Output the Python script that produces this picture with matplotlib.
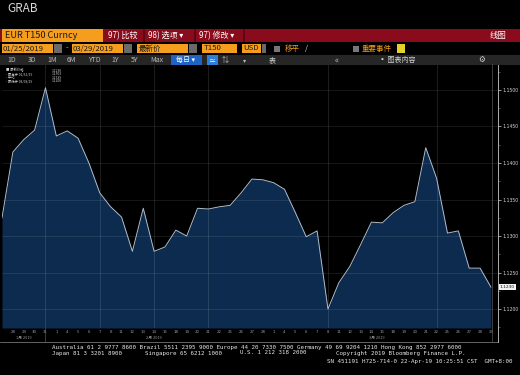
import matplotlib
matplotlib.use("Agg")
import matplotlib.pyplot as plt
from matplotlib.patches import Rectangle
from matplotlib.lines import Line2D
import numpy as np

# EUR T150 fixing, trading days 25 Jan - 29 Mar 2019
date_str = ["01/25/19"] + ["01/%02d/19" % d for d in [28, 29, 30, 31]] + \
           ["02/%02d/19" % d for d in [1, 4, 5, 6, 7, 8, 11, 12, 13, 14, 15, 18, 19, 20, 21, 22, 25, 26, 27, 28]] + \
           ["03/%02d/19" % d for d in [1, 4, 5, 6, 7, 8, 11, 12, 13, 14, 15, 18, 19, 20, 21, 22, 25, 26, 27, 28, 29]]
prices = [1.1325, 1.1415, 1.1432, 1.1445, 1.1503, 1.1437, 1.1444, 1.1434, 1.1400, 1.1359,
          1.1340, 1.1326, 1.1279, 1.1338, 1.1279, 1.1285, 1.1308, 1.1300, 1.1338, 1.1337,
          1.1340, 1.1342, 1.1359, 1.1378, 1.1377, 1.1373, 1.1364, 1.1332, 1.1299, 1.1307,
          1.1200, 1.1236, 1.1258, 1.1288, 1.1319, 1.1318, 1.1332, 1.1342, 1.1347, 1.1421,
          1.1379, 1.1304, 1.1307, 1.1256, 1.1256, 1.1230]
days = [int(s[3:5]) for s in date_str]
months = ["1月 2019", "2月 2019", "3月 2019"]
yticks = [1.1200, 1.1250, 1.1300, 1.1350, 1.1400, 1.1450, 1.1500]
vgrid = [4, 9, 14, 19, 30, 40]

W, H = 520, 375
CJK = ['Noto Sans CJK SC', 'DejaVu Sans']


def fx(x):
    return x / W


def fy(y):
    return 1 - y / H


def box(x0, y0, x1, y1, c):
    fig.patches.append(Rectangle((fx(x0), fy(y1)), (x1 - x0) / W, (y1 - y0) / H,
                                 transform=fig.transFigure, color=c, lw=0))


def txt(x, y, s, c="white", size=6, ha="left", **kw):
    fig.text(fx(x), fy(y), s, color=c, fontsize=size, ha=ha, va="center", family=CJK, **kw)


fig = plt.figure(figsize=(5.2, 3.75), dpi=100, facecolor="black")

# ---- header
txt(7, 9, "GRAB", c="#d8d8d8", size=8.5)

orange = "#f59d1d"
red = "#8a0b1b"
box(0, 29, 520, 42, red)
box(2, 29, 103, 42, orange)
txt(5, 35.5, "EUR T150 Curncy", c="#1a1a1a", size=6.6)
for xs in [143, 194, 243]:
    box(xs, 29, xs + 1.5, 42, "#5c0611")
txt(108, 35.5, "97) 比较", size=5.8)
txt(148, 35.5, "98) 选项 ▾", size=5.8)
txt(199, 35.5, "97) 修改 ▾", size=5.8)
txt(490, 35.5, "线图", size=6)

# second row
box(2, 44, 53, 53, orange)
txt(3, 48.5, "01/25/2019", c="#1a1a1a", size=5.6)
box(54, 44, 62, 53, "#6a6a6a")
txt(66, 48.5, "-", c="#cccccc", size=5.5)
box(72, 44, 123, 53, orange)
txt(73, 48.5, "03/29/2019", c="#1a1a1a", size=5.6)
box(124, 44, 132, 53, "#6a6a6a")
box(137, 44, 188, 53, orange)
txt(139, 48.5, "最新价", c="#1a1a1a", size=5.4)
box(189, 44, 197, 53, "#6a6a6a")
box(202, 44, 237, 53, orange)
txt(204, 48.5, "T150", c="#1a1a1a", size=5.6)
box(242, 44, 261, 53, orange)
txt(243, 48.5, "USD", c="#1a1a1a", size=5.6)
box(262, 44, 266, 53, "#6a6a6a")
box(274, 46, 280, 52, "#777777")
txt(285, 48.5, "移平", c=orange, size=5.4)
txt(305, 48.5, "/", c="#dddddd", size=5.4)
box(353, 46, 359, 52, "#777777")
txt(362, 48.5, "重要事件", c=orange, size=5.4)
box(397, 44, 405, 53, "#e8d02a")

# third row
box(0, 55, 520, 65, "#262626")
for lab, xc in zip(["1D", "3D", "1M", "6M", "YTD", "1Y", "5Y", "Max"],
                   [12, 32, 52, 71, 94, 115, 135, 157]):
    txt(xc, 60, lab, c="#bdbdbd", size=5, ha="center")
box(171, 55.5, 202, 64.5, "#1d64c4")
txt(186, 60, "每日 ▾", size=5, ha="center")
box(207, 55.5, 218, 64.5, "#2f7fd8")
txt(212, 60, "≃", size=5, ha="center")
txt(225, 60, "⇅", c="#bdbdbd", size=5, ha="center")
txt(245, 60, "▾", c="#bdbdbd", size=4.5, ha="center")
txt(272, 60, "表", c="#d0d0d0", size=5, ha="center")
txt(337, 60, "«", c="#bdbdbd", size=6, ha="center")
txt(397, 60, "▪ 图表内容", c="#d0d0d0", size=5, ha="center")
txt(482, 60, "⚙", c="#d0d0d0", size=5.5, ha="center")

# ---- chart
ax = fig.add_axes([fx(2), fy(328), (498 - 2) / W, (328 - 64) / H])
ax.set_facecolor("black")
x = np.arange(len(prices))
ybot, ytop = 1.1174, 1.15356
ax.fill_between(x, prices, ybot, color="#0c2b4e", lw=0, zorder=1)
ax.plot(x, prices, color="#aebccb", lw=0.7, zorder=4)
for t in yticks:
    ax.axhline(t, color="white", alpha=0.13, lw=0.5, zorder=3)
for i in vgrid:
    ax.axvline(i, color="white", alpha=0.16, lw=0.5, zorder=3)
ax.set_xlim(0, 45.65)
ax.set_ylim(ybot, ytop)
for s in ["top", "left", "bottom"]:
    ax.spines[s].set_visible(False)
ax.spines["right"].set_color("#c8c8c8")
ax.spines["right"].set_linewidth(0.6)
ax.yaxis.tick_right()
ax.set_yticks(yticks)
ax.set_yticklabels(["%.4f" % t for t in yticks])
ax.set_yticks(np.arange(1.1175, 1.1526, 0.005), minor=True)
ax.tick_params(axis="y", which="major", colors="#d6d6d6", labelsize=3.3, length=2.2, width=0.5, pad=1.2)
ax.tick_params(axis="y", which="minor", colors="#8a8a8a", length=1.3, width=0.4)
ax.set_xticks(x[1:])
ax.set_xticklabels([str(d) for d in days[1:]])
ax.tick_params(axis="x", colors="#9a9a9a", labelsize=2.8, length=0, pad=1.5)

# current value tag
last = prices[-1]
ax.text(1.004, (last - ybot) / (ytop - ybot), "%.4f" % last, transform=ax.transAxes,
        fontsize=3.2, color="#111111", va="center", ha="left",
        bbox=dict(boxstyle="square,pad=0.25", fc="#f2f2f2", ec="none"))

# month labels under the day numbers
mid = [2, 14, 34.5]
for m, xm in zip(months, mid):
    ax.text(xm, -0.036, m, transform=ax.get_xaxis_transform(), fontsize=2.8,
            color="#9a9a9a", ha="center", va="center", family=CJK)

# axis band lines
fig.add_artist(Line2D([fx(0), fx(498)], [fy(342), fy(342)], color="#8a8a8a", lw=0.5))
fig.add_artist(Line2D([fx(498), fx(498)], [fy(328), fy(342)], color="#c8c8c8", lw=0.6))
fig.add_artist(Line2D([fx(45), fx(45)], [fy(328), fy(342)], color="#555555", lw=0.5))
fig.add_artist(Line2D([fx(491.5), fx(491.5)], [fy(64), fy(342)], color="#555555", lw=0.5))

# legend box at top left
imax = int(np.argmax(prices))
imin = int(np.argmin(prices))
leg = [("■ 最新价格", "%.4f" % last),
       ("- 最高于 %s" % date_str[imax], "%.4f" % prices[imax]),
       ("- 平均", "%.4f" % np.mean(prices)),
       ("- 最低于 %s" % date_str[imin], "%.4f" % prices[imin])]
for k, (a, b) in enumerate(leg):
    yy = 70.5 + k * 3.6
    txt(6, yy, a, c="#d0d0d0", size=2.4)
    txt(52, yy, b, c="#d0d0d0", size=2.4)

# footer
mono = dict(color="#e6e6e6", fontsize=4.2, va="center", ha="left", family="DejaVu Sans Mono")
fig.text(fx(52), fy(347), "Australia 61 2 9777 8600 Brazil 5511 2395 9000 Europe 44 20 7330 7500 "
         "Germany 49 69 9204 1210 Hong Kong 852 2977 6000", **mono)
fig.text(fx(52), fy(353), "Japan 81 3 3201 8900", **mono)
fig.text(fx(145), fy(353), "Singapore 65 6212 1000", **mono)
fig.text(fx(240), fy(353), "U.S. 1 212 318 2000", **mono)
fig.text(fx(336), fy(353), "Copyright 2019 Bloomberg Finance L.P.", **mono)
fig.text(fx(327), fy(362), "SN 451191 H725-714-0 22-Apr-19 10:25:51 CST  GMT+8:00", **mono)

fig.savefig("out.png", dpi=100, facecolor="black")
